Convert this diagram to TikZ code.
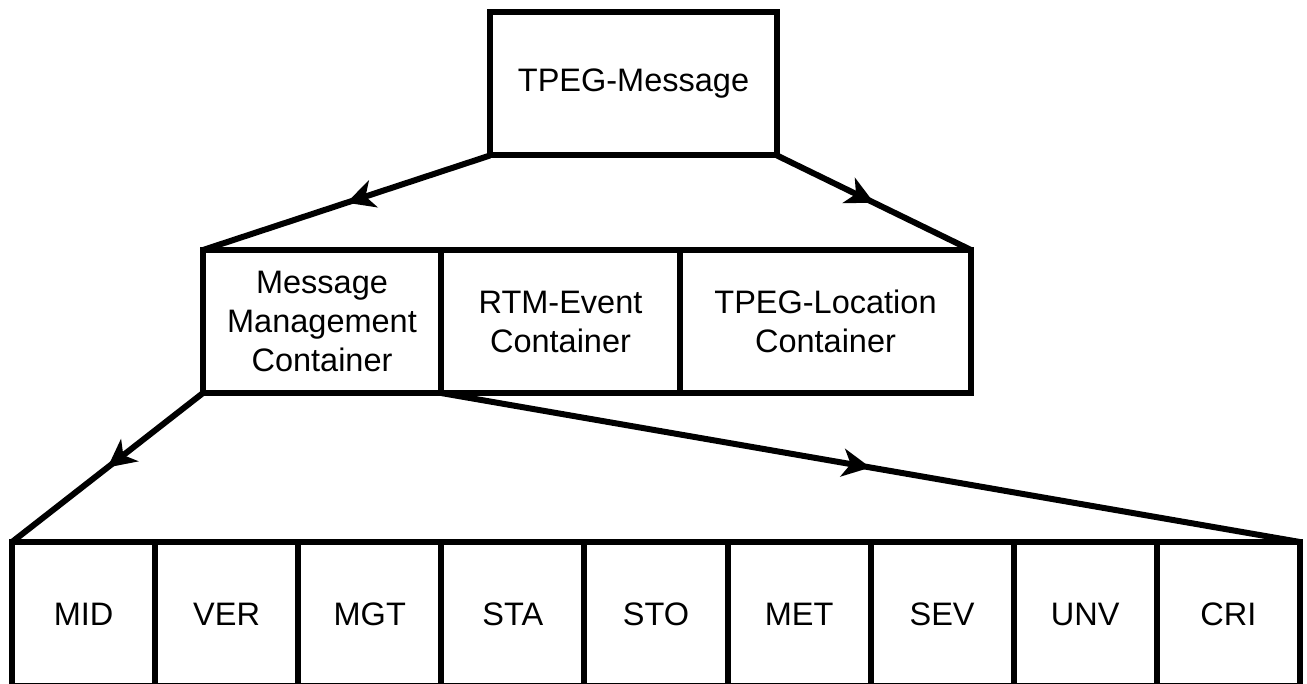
\documentclass[tikz,border=0pt]{standalone}
\usepackage{fontspec}
\setmainfont{Liberation Sans}
\usetikzlibrary{arrows.meta,decorations.markings}

\begin{document}
\begin{tikzpicture}[x=1pt,y=-1pt,
  box/.style={draw, line width=6pt, inner sep=0pt, outer sep=0pt,
    font=\fontsize{32.5}{39}\selectfont, align=center},
  link/.style={line width=6pt, postaction={decorate},
    decoration={markings, mark=at position 0.5 with
      {\arrow{Stealth[length=28pt,width=28pt,inset=8pt]}}}}]
  \useasboundingbox (0,0) rectangle (1307,684);
  \clip (0,0) rectangle (1307,684);

  % root message
  \node[box, minimum width=287pt, minimum height=143pt] (msg) at (633.5,84) {TPEG-Message};

  % containers
  \node[box, minimum width=238pt, minimum height=143pt] (mmc) at (322,321.5)
    {Message\\Management\\Container};
  \node[box, minimum width=239pt, minimum height=143pt] (rtm) at (560.5,321.5)
    {RTM-Event\\Container};
  \node[box, minimum width=291pt, minimum height=143pt] (loc) at (825.5,321.5)
    {TPEG-Location\\Container};

  % management container elements
  \foreach \lbl [count=\i from 0] in {MID,VER,MGT,STA,STO,MET,SEV,UNV,CRI}
    \node[box, minimum width=143.1pt, minimum height=144pt] (c\i)
      at ({12+143.1*(\i+0.5)},614) {\lbl};

  % connectors
  \draw[link] (msg.south west) -- (mmc.north west);
  \draw[link] (msg.south east) -- (loc.north east);
  \draw[link] (mmc.south west) -- (c0.north west);
  \draw[link] (mmc.south east) -- (c8.north east);
\end{tikzpicture}
\end{document}
